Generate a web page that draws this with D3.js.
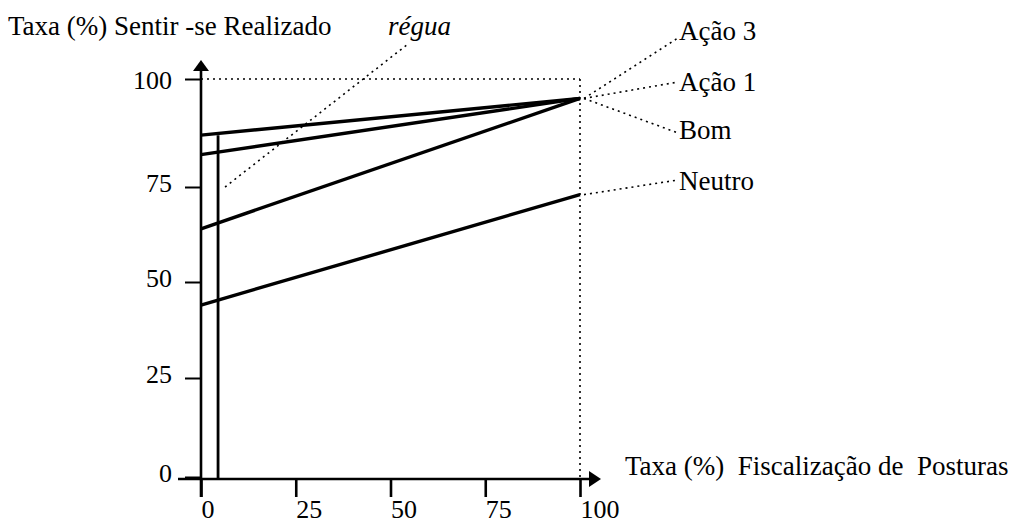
<!DOCTYPE html>
<html>
<head>
<meta charset="utf-8">
<script src="https://cdn.jsdelivr.net/npm/d3@7"></script>
<style>
  html, body { margin: 0; padding: 0; background: #fff; }
  svg { display: block; }
  text { font-family: "Liberation Serif", "Times New Roman", serif; fill: #000; }
</style>
</head>
<body>
<svg id="chart" width="1016" height="524"></svg>
<script>
// Rates of "Sentir-se Realizado" against "Fiscalização de Posturas"
const seriesNames = ["Ação 3", "Ação 1", "Bom", "Neutro"];
const startValues = [87, 82.5, 64, 44];      // at 0 % fiscalização
const endValues   = [95.5, 95.5, 95.5, 73];  // at 100 % fiscalização
const xTicks = [0, 25, 50, 75, 100];
const yTicks = [0, 25, 50, 75, 100];
const reguaX = 4.5;     // position of the ruler on the x axis
const reguaTop = 87;    // height of the ruler
const reguaPoint = 75;  // level the ruler's callout points to

const yTitle = "Taxa (%) Sentir -se Realizado";
const xTitle = "Taxa (%)  Fiscalização de  Posturas";
const reguaLabel = "régua";

const svg = d3.select("#chart");

const x = d3.scaleLinear().domain([0, 100]).range([201, 580]);
// hand-drawn axis: tick spacing is slightly uneven
const y = d3.scaleLinear().domain([0, 25, 50, 75, 100]).range([477, 378, 282, 187, 79]);

const ink = "#000";

// dotted guides at 100 %
svg.append("line")
  .attr("x1", x(0)).attr("x2", x(100))
  .attr("y1", y(100)).attr("y2", y(100))
  .attr("stroke", ink).attr("stroke-width", 1.6).attr("stroke-dasharray", "2,4");
svg.append("line")
  .attr("x1", x(100)).attr("x2", x(100))
  .attr("y1", y(100)).attr("y2", y(0) + 2)
  .attr("stroke", ink).attr("stroke-width", 1.6).attr("stroke-dasharray", "2,4");

// y axis ticks
const yAxis = d3.axisLeft(y).tickValues(yTicks).tickSize(16).tickSizeOuter(0);
const gy = svg.append("g").attr("transform", `translate(${x(0)},0)`).call(yAxis);
gy.select(".domain").remove();
gy.selectAll(".tick line").attr("stroke", ink).attr("stroke-width", 2);
gy.selectAll(".tick text")
  .attr("x", -29)
  .attr("dy", d => d === 100 ? 9 : 4)
  .attr("font-size", 26)
  .attr("font-family", "Liberation Serif");

// x axis ticks
const xAxis = d3.axisBottom(x).tickValues(xTicks).tickSize(18).tickSizeOuter(0);
const gx = svg.append("g").attr("transform", `translate(0,${y(0) + 2})`).call(xAxis);
gx.select(".domain").remove();
gx.selectAll(".tick line").attr("stroke", ink).attr("stroke-width", 2.6);
gx.selectAll(".tick text")
  .attr("text-anchor", "start")
  .attr("x", 0)
  .attr("y", 39)
  .attr("dy", 0)
  .attr("font-size", 26)
  .attr("font-family", "Liberation Serif");

// axis lines with arrow heads
svg.append("line")
  .attr("x1", x(0)).attr("x2", x(0))
  .attr("y1", y(0) + 20).attr("y2", 68)
  .attr("stroke", ink).attr("stroke-width", 2.6);
svg.append("path")
  .attr("d", `M${x(0)},60 L${x(0) - 8},71 L${x(0) + 8},71 Z`)
  .attr("fill", ink);
svg.append("line")
  .attr("x1", 178).attr("x2", 592)
  .attr("y1", y(0) + 2).attr("y2", y(0) + 2)
  .attr("stroke", ink).attr("stroke-width", 2.6);
svg.append("path")
  .attr("d", `M601,${y(0) + 2} L589,${y(0) - 6} L589,${y(0) + 10} Z`)
  .attr("fill", ink);

// the ruler
svg.append("line")
  .attr("x1", x(reguaX)).attr("x2", x(reguaX))
  .attr("y1", y(reguaTop)).attr("y2", y(0) + 2)
  .attr("stroke", ink).attr("stroke-width", 2.8);

// series lines
const lines = seriesNames.map((name, i) => ({
  name,
  pts: [[0, startValues[i]], [100, endValues[i]]]
}));
const lineGen = d3.line().x(d => x(d[0])).y(d => y(d[1]));
svg.append("g").selectAll("path")
  .data(lines)
  .join("path")
  .attr("d", d => lineGen(d.pts))
  .attr("fill", "none")
  .attr("stroke", ink)
  .attr("stroke-width", 3.4)
  .attr("stroke-linecap", "butt");

// labels with dotted callouts
const labelX = 679;
const labelBaselines = [40, 91, 139, 190];
const calloutEnds = [38, 82, 133, 180];
svg.append("g").selectAll("line")
  .data(lines)
  .join("line")
  .attr("x1", x(100) + 4)
  .attr("y1", d => y(d.pts[1][1]))
  .attr("x2", labelX - 1)
  .attr("y2", (d, i) => calloutEnds[i])
  .attr("stroke", ink).attr("stroke-width", 1.6).attr("stroke-dasharray", "2,4");
svg.append("g").selectAll("text")
  .data(lines)
  .join("text")
  .attr("x", labelX)
  .attr("y", (d, i) => labelBaselines[i])
  .attr("font-size", 27)
  .text(d => d.name);

// ruler callout
svg.append("line")
  .attr("x1", x(reguaX) + 7).attr("y1", y(reguaPoint))
  .attr("x2", 408).attr("y2", 44)
  .attr("stroke", ink).attr("stroke-width", 1.6).attr("stroke-dasharray", "2,4");
svg.append("text")
  .attr("x", 388).attr("y", 35)
  .attr("font-size", 27)
  .attr("font-style", "italic")
  .text(reguaLabel);

// axis titles
svg.append("text")
  .attr("x", 8).attr("y", 35)
  .attr("font-size", 27)
  .text(yTitle);
svg.append("text")
  .attr("x", 625).attr("y", 475)
  .attr("font-size", 27)
  .attr("xml:space", "preserve")
  .style("white-space", "pre")
  .text(xTitle);
</script>
</body>
</html>
